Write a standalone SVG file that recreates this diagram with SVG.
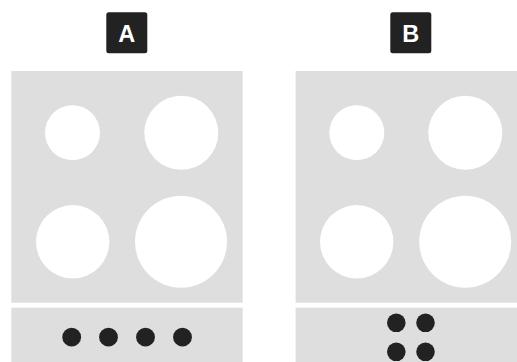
<svg xmlns="http://www.w3.org/2000/svg" width="517" height="362" viewBox="0 0 517 362">
<style>
.panel{fill:#dedede}
.burner{fill:#ffffff}
.knob{fill:#222222}
.tag{fill:#222222}
.tagtext{fill:#ffffff;font-family:"Liberation Sans",Arial,sans-serif;font-weight:bold;font-size:23.5px;text-anchor:middle}
</style>
<rect width="517" height="362" fill="#ffffff"/>
<g id="stoveA">
<g id="labelA"><rect class="tag" x="106.3" y="12.3" width="41" height="41" rx="2.5"/><text class="tagtext" x="126.8" y="42.3">A</text></g>
<rect class="panel" x="11.3" y="71" width="231.4" height="231.7"/>
<circle class="burner" cx="72.5" cy="132.7" r="27.5"/>
<circle class="burner" cx="181.3" cy="132.8" r="37"/>
<circle class="burner" cx="72.7" cy="241.8" r="36.7"/>
<circle class="burner" cx="181" cy="241.7" r="46"/>
<rect class="panel" x="11.3" y="307.7" width="231.4" height="54.3"/>
<circle class="knob" cx="71.7" cy="337.2" r="9.4"/>
<circle class="knob" cx="108.5" cy="337.2" r="9.4"/>
<circle class="knob" cx="145.5" cy="337.2" r="9.4"/>
<circle class="knob" cx="182.5" cy="337.2" r="9.4"/>
</g>
<g id="stoveB">
<g id="labelB"><rect class="tag" x="390.3" y="12.3" width="41" height="41" rx="2.5"/><text class="tagtext" x="410.8" y="42.3">B</text></g>
<rect class="panel" x="295.6" y="71" width="231.4" height="231.7"/>
<circle class="burner" cx="356.8" cy="132.7" r="27.5"/>
<circle class="burner" cx="465.3" cy="132.8" r="37"/>
<circle class="burner" cx="356.7" cy="241.8" r="36.7"/>
<circle class="burner" cx="465.2" cy="241.7" r="46"/>
<rect class="panel" x="295.6" y="307.7" width="231.4" height="54.3"/>
<circle class="knob" cx="396.3" cy="322.8" r="9.3"/>
<circle class="knob" cx="425.5" cy="322.8" r="9.3"/>
<circle class="knob" cx="396.3" cy="351.8" r="9.3"/>
<circle class="knob" cx="425.5" cy="351.8" r="9.3"/>
</g>
</svg>
